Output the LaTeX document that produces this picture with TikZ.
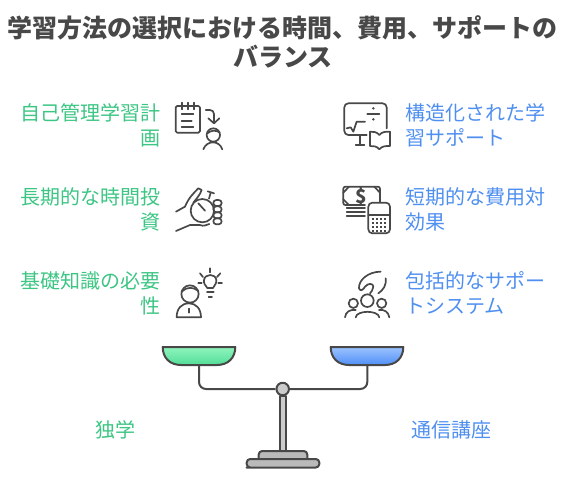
\documentclass[tikz,border=0pt]{standalone}
\usepackage{fontspec}
\setmainfont{Noto Sans CJK JP}
\definecolor{learngreen}{HTML}{3CC583}
\definecolor{learnblue}{HTML}{4F8FF0}
\definecolor{iconline}{HTML}{484848}
\definecolor{pangreentop}{HTML}{8FF5BD}
\definecolor{pangreenlow}{HTML}{52DD97}
\definecolor{panbluetop}{HTML}{9DC3FF}
\definecolor{panbluelow}{HTML}{4F8FF7}
\tikzset{
  headline/.style={
    font=\fontsize{25}{29}\selectfont\bfseries,
    text=iconline,
    align=center,
    inner sep=0pt
  },
  leftitem/.style={
    font=\fontsize{20}{25}\selectfont,
    text=learngreen,
    align=right,
    anchor=east,
    inner sep=0pt
  },
  rightitem/.style={
    font=\fontsize{20}{25}\selectfont,
    text=learnblue,
    align=left,
    anchor=west,
    inner sep=0pt
  },
  sideitem/.style={
    font=\fontsize{20}{25}\selectfont,
    inner sep=0pt
  },
  icon/.style={
    draw=iconline,
    line width=1.7pt,
    line cap=round,
    line join=round
  },
  scalepart/.style={
    draw=iconline,
    line width=2pt,
    line join=round
  }
}
\begin{document}
\begin{tikzpicture}[x=1pt,y=-1pt]
  \useasboundingbox (0,0) rectangle (563,495);
  \node[headline] (title) at (283,41.5) {学習方法の選択における時間、費用、サポートの\\バランス};
  % left column
  \node[leftitem] (self) at (161,125) {自己管理学習計\\画};
  \node[leftitem] (long) at (161,209) {長期的な時間投\\資};
  \node[leftitem] (base) at (161,293) {基礎知識の必要\\性};
  % right column
  \node[rightitem] (struct) at (405,125) {構造化された学\\習サポート};
  \node[rightitem] (cost) at (405,209) {短期的な費用対\\効果};
  \node[rightitem] (system) at (405,293) {包括的なサポー\\トシステム};
  \node[sideitem,text=learngreen] (study) at (115,430) {独学};
  \node[sideitem,text=learnblue] (course) at (451,430) {通信講座};
  % left icons
  \begin{scope}[shift={(165,90)},scale=1/3,icon]
    \draw[rounded corners=1.5pt] (32,48) rectangle (105,128);
    \foreach \x in {50,68,87}{
      \draw (\x,38) -- (\x,58);
    }
    \foreach \y/\xe in {72/85,92/80,112/85}{
      \draw (50,\y) -- (\xe,\y);
    }
    \draw[rounded corners=4pt] (122,60) -- (147,60) -- (147,100);
    \draw (130,85) -- (147,100) -- (163,85);
    \draw (145,135) circle (20);
    \draw (127,130) .. controls (140,120) and (150,120) .. (164,127);
    \draw (115,178) .. controls (125,150) and (163,150) .. (172,178);
    % stopwatch in a hand
    \draw (112,362) circle (35);
    \draw (100,340) -- (120,362);
    \draw (137,308) -- (132,326);
    \draw (128,304) -- (147,310);
    \foreach \y in {330,349,367,385}{
      \draw[rounded corners=3pt] (145,\y) rectangle (170,\y+18);
    }
    \draw (33,365) -- (60,350) .. controls (70,325) and (85,310) .. (100,295) -- (110,300) .. controls (105,315) and (95,325) .. (85,338);
    \draw (33,423) -- (75,405) -- (105,405) .. controls (115,410) and (125,405) .. (133,402);
    % person with a bulb
    \draw (75,612) circle (26);
    \draw (50,605) .. controls (65,590) and (85,590) .. (100,603);
    \draw (35,682) -- (108,682) .. controls (108,655) and (92,640) .. (72,640) .. controls (50,640) and (35,655) .. (35,682) -- cycle;
    \draw (72,656) -- (72,668);
    \draw (127,594) .. controls (122,585) and (115,582) .. (117,570) .. controls (120,550) and (152,550) .. (154,570) .. controls (155,582) and (148,585) .. (144,594) -- cycle;
    \draw (126,606) -- (146,606);
    \draw (131,620) -- (141,620);
    \draw (105,550) -- (114,561);
    \draw (135,535) -- (135,547);
    \draw (166,550) -- (156,561);
    \draw (100,578) -- (110,578);
    \draw (160,578) -- (171,578);
  \end{scope}
  % right icons
  \begin{scope}[shift={(335,90)},scale=1/3,icon]
    \draw[rounded corners=4pt] (95,135) -- (28,135) -- (28,40) -- (155,40) -- (155,115);
    \draw (75,135) -- (75,165);
    \draw (62,165) -- (88,165);
    \draw (35,115) -- (47,112) -- (55,125) -- (65,95) -- (90,95);
    \draw (97,72) -- (133,72);
    \fill[iconline] (115,55) circle (4) (115,88) circle (4);
    \draw (133,135) .. controls (125,125) and (115,125) .. (105,125) -- (105,168) .. controls (115,168) and (125,168) .. (133,178) .. controls (141,168) and (151,168) .. (165,168) -- (165,125) .. controls (151,125) and (141,125) .. (133,135) -- cycle;
    % banknote and calculator
    \draw[rounded corners=2pt] (90,345) -- (25,345) -- (25,290) -- (135,290) -- (135,335);
    \draw (25,308) -- (42,290);
    \draw (25,328) -- (42,345);
    \draw (118,290) -- (135,308);
    \node[inner sep=0pt,text=iconline,font=\fontsize{19}{19}\selectfont\bfseries] (dollar) at (80,320) {\$};
    \foreach \y in {355,367,378}{
      \draw (35,\y) -- (90,\y);
    }
    \draw[rounded corners=4pt] (100,338) rectangle (165,430);
    \draw (100,375) -- (165,375);
    \foreach \y in {387,399,411,423}{
      \foreach \x in {113,125,137,149}{
        \fill[iconline] (\x-3,\y-3) rectangle (\x+3,\y+2);
      }
    }
    % group with a hand
    \draw (97,632) circle (19);
    \draw (55,640) circle (14);
    \draw (140,640) circle (14);
    \draw (62,682) .. controls (65,660) and (130,660) .. (133,682);
    \draw (30,682) .. controls (32,665) and (45,658) .. (62,660);
    \draw (163,682) .. controls (160,665) and (148,658) .. (132,660);
    \draw (137,545) .. controls (100,545) and (70,570) .. (72,595) .. controls (75,605) and (85,600) .. (90,590) .. controls (100,578) and (115,580) .. (115,590) .. controls (115,600) and (108,605) .. (105,610);
    \draw (130,610) .. controls (145,600) and (155,585) .. (152,565);
  \end{scope}
  % balance
  \coordinate (beamleft) at (199,365);
  \coordinate (beamright) at (367.3,365);
  \node[circle,scalepart,fill=black!20,inner sep=0pt,minimum size=12.5pt] (pivot) at (282.7,389) {};
  \draw[scalepart,rounded corners=7pt] (beamleft) |- (pivot.west);
  \draw[scalepart,rounded corners=7pt] (beamright) |- (pivot.east);
  \draw[scalepart,fill=black!20] (280,395.5) rectangle (286,451);
  \draw[scalepart,fill=black!27,rounded corners=3.5pt] (258.7,459) -- (258.7,451) -- (307.3,451) -- (307.3,459);
  \draw[scalepart,fill=black!27,rounded corners=3.5pt] (250,467.5) -- (246.7,467.5) -- (246.7,459) -- (319.3,459) -- (319.3,467.5) -- cycle;
  \draw[scalepart,top color=pangreentop,bottom color=pangreenlow] (162.7,347) -- (235.3,347) .. controls (235.3,358) and (228,365) .. (217,365) -- (181,365) .. controls (170,365) and (162.7,358) .. (162.7,347) -- cycle;
  \draw[scalepart,top color=panbluetop,bottom color=panbluelow] (330.7,347) -- (403.3,347) .. controls (403.3,358) and (396,365) .. (385,365) -- (349,365) .. controls (338,365) and (330.7,358) .. (330.7,347) -- cycle;
\end{tikzpicture}
\end{document}
